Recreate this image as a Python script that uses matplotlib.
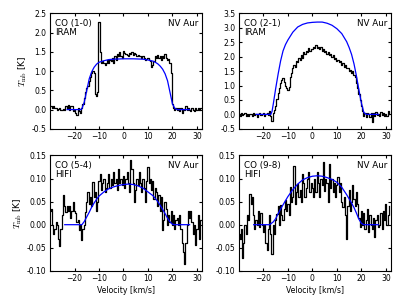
import numpy as np
import matplotlib
matplotlib.use('Agg')
import matplotlib.pyplot as plt

# channel velocities (km/s), 0.5 km/s channels
vel = np.arange(-30, 32, 0.5)

co10 = [0.1, 0.08, 0.05, 0.1, 0.03, 0.05, 0.0, 0.02, 0.05, 0.0,
	-0.02, 0.02, 0.0, 0.1, 0.05, 0.12, 0.0, 0.08, 0.1, -0.05,
	0.0, -0.1, -0.15, 0.05, -0.05, -0.1, 0.05, 0.15, 0.3, 0.45,
	0.55, 0.6, 0.75, 0.85, 0.95, 1.0, 0.95, 0.4, 0.35, 0.45,
	2.28, 1.5, 1.2, 1.25, 1.22, 1.15, 1.2, 1.3, 1.22, 1.3,
	1.25, 1.35, 1.2, 1.4, 1.3, 1.45, 1.38, 1.5, 1.4, 1.35,
	1.52, 1.48, 1.45, 1.42, 1.4, 1.48, 1.45, 1.5, 1.42, 1.48,
	1.45, 1.4, 1.42, 1.38, 1.4, 1.35, 1.38, 1.35, 1.3, 1.32,
	1.35, 1.3, 1.25, 1.1, 1.15, 1.25, 1.4, 1.35, 1.42, 1.35,
	1.38, 1.3, 1.4, 1.35, 1.45, 1.35, 1.3, 1.32, 1.2, 0.95,
	0.15, 0.05, 0.0, 0.05, 0.0, 0.03, -0.05, 0.05, -0.08, 0.02,
	0.0, 0.08, -0.02, 0.05, 0.0, -0.05, 0.05, 0.0, -0.05, 0.05,
	-0.02, 0.05, 0.0, 0.03]

co21 = [0.02, -0.05, 0.05, -0.03, 0.0, 0.06, -0.04, 0.02, -0.06, 0.03,
	0.0, -0.05, 0.05, -0.02, 0.03, -0.08, 0.02, 0.04, -0.03, 0.01,
	0.06, -0.04, 0.0, 0.05, -0.02, 0.1, -0.05, -0.22, 0.05, 0.15,
	0.3, 0.55, 0.75, 0.9, 1.1, 1.2, 1.25, 1.12, 1.0, 0.9,
	0.85, 0.95, 1.3, 1.45, 1.6, 1.7, 1.65, 1.85, 1.8, 1.95,
	1.9, 2.05, 1.95, 2.15, 2.1, 2.2, 2.15, 2.3, 2.2, 2.28,
	2.25, 2.35, 2.3, 2.42, 2.3, 2.35, 2.25, 2.32, 2.2, 2.28,
	2.15, 2.2, 2.1, 2.15, 2.05, 2.1, 1.98, 2.05, 1.92, 1.95,
	1.85, 1.9, 1.8, 1.85, 1.72, 1.78, 1.65, 1.7, 1.6, 1.62,
	1.5, 1.55, 1.45, 1.5, 1.35, 1.3, 1.1, 0.9, 0.7, 0.5,
	0.3, 0.1, -0.05, 0.05, -0.1, 0.05, 0.0, -0.08, 0.06, -0.25,
	0.05, -0.05, 0.08, -0.03, 0.0, -0.06, 0.07, -0.02, 0.04, -0.05,
	0.02, -0.04, 0.1, 0.0]

co54 = [0.03, 0.035, 0.0, -0.02, -0.01, 0.005, 0.0, -0.03, -0.047, -0.01,
	0.02, 0.065, 0.04, 0.027, 0.04, 0.03, 0.04, 0.015, 0.03, 0.05,
	0.03, 0.025, 0.005, 0.01, -0.012, 0.0, -0.033, -0.01, 0.0, 0.027,
	0.05, 0.07, 0.045, 0.06, 0.04, 0.092, 0.06, 0.07, 0.03, 0.05,
	0.095, 0.11, 0.075, 0.09, 0.1, 0.07, 0.08, 0.09, 0.11, 0.08,
	0.1, 0.085, 0.115, 0.09, 0.1, 0.075, 0.12, 0.09, 0.1, 0.085,
	0.105, 0.08, 0.1, 0.115, 0.09, 0.07, 0.14, 0.12, 0.09, 0.05,
	0.075, 0.1, 0.085, 0.115, 0.09, 0.07, 0.1, 0.08, 0.05, 0.095,
	0.125, 0.09, 0.1, 0.075, 0.095, 0.055, 0.08, 0.07, 0.04, 0.065,
	0.03, 0.06, -0.012, 0.01, 0.05, 0.035, 0.0, 0.02, 0.005, 0.03,
	0.0, 0.02, -0.01, 0.01, 0.015, 0.0, 0.02, -0.01, -0.04, -0.06,
	-0.085, -0.04, 0.0, 0.03, 0.015, 0.03, 0.005, -0.02, 0.0, -0.045,
	-0.01, 0.02, -0.03, 0.01]

co98 = [-0.02, -0.03, -0.01, -0.073, -0.04, 0.0, -0.02, 0.02, 0.01, 0.067,
	0.045, 0.06, 0.02, -0.01, 0.01, 0.0, 0.03, -0.005, 0.025, 0.0,
	-0.016, 0.0, -0.04, -0.055, -0.01, 0.02, -0.02, -0.063, 0.0, -0.02,
	0.01, 0.024, 0.04, 0.0, 0.042, 0.02, 0.01, 0.035, 0.053, 0.03,
	0.045, 0.02, 0.081, 0.05, 0.06, 0.128, 0.045, 0.07, 0.089, 0.06,
	0.075, 0.05, 0.11, 0.09, 0.06, 0.08, 0.1, 0.114, 0.07, 0.09,
	0.08, 0.06, 0.1, 0.07, 0.115, 0.09, 0.06, 0.1, 0.085, 0.135,
	0.074, 0.1, 0.09, 0.05, 0.132, 0.08, 0.1, 0.07, 0.09, 0.06,
	0.085, 0.103, 0.07, 0.09, 0.05, 0.038, 0.06, 0.02, -0.03, 0.04,
	0.075, 0.03, 0.05, 0.085, 0.056, 0.04, 0.07, 0.045, 0.015, -0.005,
	0.03, 0.0, 0.025, -0.01, 0.01, 0.035, -0.016, 0.02, 0.0, -0.01,
	0.015, -0.027, 0.01, 0.02, -0.005, 0.0, 0.025, -0.01, 0.03, 0.01,
	0.045, 0.0, 0.02, 0.04]

# model profiles (blue), velocity / temperature pairs
mod10_v = [-23, -17.5, -17, -16, -15, -14, -13, -12, -11, -10, -8, -6, -4, 0, 4, 8, 10, 12, 13, 14, 15, 16, 17, 18, 19, 20, 21, 22, 27]
mod10_t = [0, 0, 0.02, 0.2, 0.5, 0.8, 0.98, 1.1, 1.18, 1.23, 1.27, 1.3, 1.31, 1.32, 1.32, 1.31, 1.29, 1.26, 1.23, 1.19, 1.13, 1.05, 0.93, 0.75, 0.45, 0.15, 0.03, 0, 0]

mod21_v = [-23, -17, -16.5, -16, -15, -14, -13, -12, -11, -10, -8, -6, -4, -2, 0, 2, 4, 6, 8, 10, 12, 14, 15, 16, 17, 18, 19, 20, 21, 22, 27]
mod21_t = [0, 0, 0.1, 0.35, 0.9, 1.4, 1.85, 2.2, 2.42, 2.58, 2.85, 3.03, 3.12, 3.17, 3.19, 3.2, 3.2, 3.16, 3.09, 2.97, 2.8, 2.52, 2.32, 2.08, 1.75, 1.33, 0.85, 0.4, 0.07, 0, 0]

mod54_v = [-24, -17, -16, -15, -14, -13, -12, -11, -10, -8, -6, -4, -2, 0, 2, 4, 6, 8, 10, 12, 13, 14, 15, 16, 17, 18, 19, 20, 21, 27]
mod54_t = [0, 0, 0.007, 0.017, 0.027, 0.038, 0.047, 0.055, 0.062, 0.071, 0.078, 0.082, 0.085, 0.087, 0.088, 0.087, 0.084, 0.079, 0.071, 0.063, 0.057, 0.05, 0.042, 0.033, 0.024, 0.014, 0.006, 0.001, 0, 0]

mod98_v = [-24, -17.5, -16, -15, -14, -13, -12, -11, -10, -8, -6, -4, -2, 0, 2, 4, 6, 8, 10, 12, 14, 16, 17, 18, 19, 20, 21, 27]
mod98_t = [0, 0, 0.006, 0.013, 0.024, 0.034, 0.043, 0.052, 0.061, 0.076, 0.088, 0.097, 0.102, 0.105, 0.106, 0.105, 0.102, 0.098, 0.092, 0.081, 0.065, 0.047, 0.037, 0.025, 0.012, 0.003, 0, 0]

lines = ['CO (1-0)\nIRAM', 'CO (2-1)\nIRAM', 'CO (5-4)\nHIFI', 'CO (9-8)\nHIFI']
spectra = [co10, co21, co54, co98]
models = [(mod10_v, mod10_t), (mod21_v, mod21_t), (mod54_v, mod54_t), (mod98_v, mod98_t)]
ylims = [(-0.5, 2.5), (-0.5, 3.5), (-0.1, 0.15), (-0.1, 0.15)]
yticks = [np.arange(-0.5, 2.51, 0.5), np.arange(-0.5, 3.51, 0.5),
	np.arange(-0.10, 0.151, 0.05), np.arange(-0.10, 0.151, 0.05)]

plt.rcParams['mathtext.fontset'] = 'cm'
plt.rcParams['xtick.direction'] = 'in'
plt.rcParams['ytick.direction'] = 'in'
plt.rcParams['xtick.top'] = True
plt.rcParams['ytick.right'] = True
plt.rcParams['xtick.major.size'] = 2.5
plt.rcParams['ytick.major.size'] = 2.5
plt.rcParams['xtick.major.pad'] = 2.5
plt.rcParams['ytick.major.pad'] = 2.5
plt.rcParams['xtick.labelsize'] = 5.5
plt.rcParams['ytick.labelsize'] = 5.5

fig, axes = plt.subplots(2, 2, figsize=(4.07, 3.05), dpi=100)
plt.subplots_adjust(left=0.123, right=0.960, bottom=0.112, top=0.956, wspace=0.245, hspace=0.231)

for index, ax in enumerate(axes.flat):
	ax.plot(vel, spectra[index], color='k', lw=0.9, drawstyle='steps-mid')
	ax.plot(models[index][0], models[index][1], color='b', lw=0.9)
	ax.set_xlim(-30, 32)
	ax.set_ylim(ylims[index])
	ax.set_xticks([-20, -10, 0, 10, 20, 30])
	ax.set_yticks(yticks[index])
	if index >= 2:
		ax.set_yticklabels(['%.2f' % t for t in yticks[index]])
		ax.set_xlabel('Velocity [km/s]', fontsize=5.6, labelpad=2)
	else:
		ax.set_yticklabels(['%.1f' % t for t in yticks[index]])
	if index % 2 == 0:
		ax.set_ylabel(r'$T_{\rm mb}$ [K]', fontsize=6.5, labelpad=2)
	ax.text(0.035, 0.955, lines[index], transform=ax.transAxes, fontsize=6.3,
		va='top', ha='left', linespacing=1.05)
	ax.text(0.975, 0.955, 'NV Aur', transform=ax.transAxes, fontsize=6.3,
		va='top', ha='right')
	for spine in ax.spines.values():
		spine.set_linewidth(0.8)

plt.savefig('out.png', dpi=100)
